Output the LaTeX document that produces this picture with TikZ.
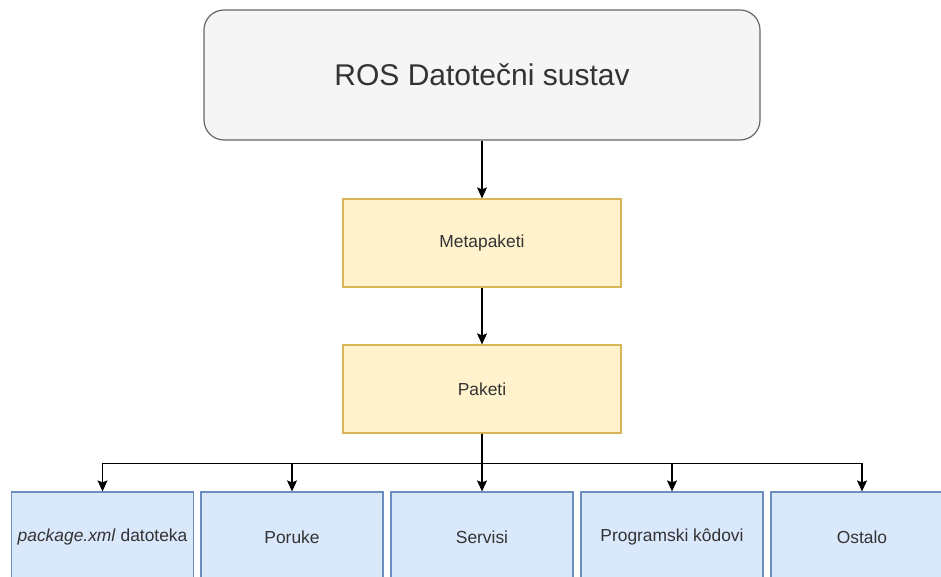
\documentclass[tikz,border=0pt]{standalone}
\usepackage{fontspec}
\setmainfont{Liberation Sans}
\usetikzlibrary{arrows.meta}
\definecolor{txt}{HTML}{333333}
\definecolor{grayfill}{HTML}{F5F5F5}
\definecolor{graydraw}{HTML}{666666}
\definecolor{yfill}{HTML}{FFF2CC}
\definecolor{ydraw}{HTML}{D6B656}
\definecolor{bfill}{HTML}{DAE8FC}
\definecolor{bdraw}{HTML}{6C8EBF}
\tikzset{
  rootbox/.style={draw=graydraw, fill=grayfill, rounded corners=20pt, line width=1.2pt,
    minimum width=556pt, minimum height=130pt, inner sep=0pt, text=txt,
    font=\fontsize{30}{36}\selectfont},
  ybox/.style={draw=ydraw, fill=yfill, line width=1.2pt,
    minimum width=278pt, minimum height=88pt, inner sep=0pt, text=txt,
    font=\fontsize{17.4}{21}\selectfont},
  bbox/.style={draw=bdraw, fill=bfill, line width=1.2pt,
    minimum width=182pt, minimum height=90pt, inner sep=0pt, text=txt,
    font=\fontsize{17.4}{21}\selectfont},
  arr/.style={line width=1.2pt, draw=black, -{Stealth[length=11pt,width=10pt,inset=2pt]}},
}
\begin{document}
\begin{tikzpicture}[x=1pt,y=-1pt]
\useasboundingbox (0,0) rectangle (941,577);
\clip (0,0) rectangle (941,577);
\fill[white] (0,0) rectangle (941,577);
\node[rootbox] (root) at (482,75) {ROS Datotečni sustav};
\node[ybox] (meta) at (482,243) {Metapaketi};
\node[ybox] (pak) at (482,389) {Paketi};
\node[bbox] (b1) at (102.5,537) {\textit{package.xml} datoteka};
\node[bbox] (b2) at (292,537) {Poruke};
\node[bbox] (b3) at (482,537) {Servisi};
\node[bbox] (b4) at (672,537) {Programski kôdovi};
\node[bbox] (b5) at (862,537) {Ostalo};
\draw[arr] (root.south) -- (meta.north);
\draw[arr] (meta.south) -- (pak.north);
\foreach \b in {b1,b2,b3,b4,b5}{
  \draw[arr] (pak.south) -- ++(0,30) -| (\b.north);
}
\end{tikzpicture}
\end{document}
